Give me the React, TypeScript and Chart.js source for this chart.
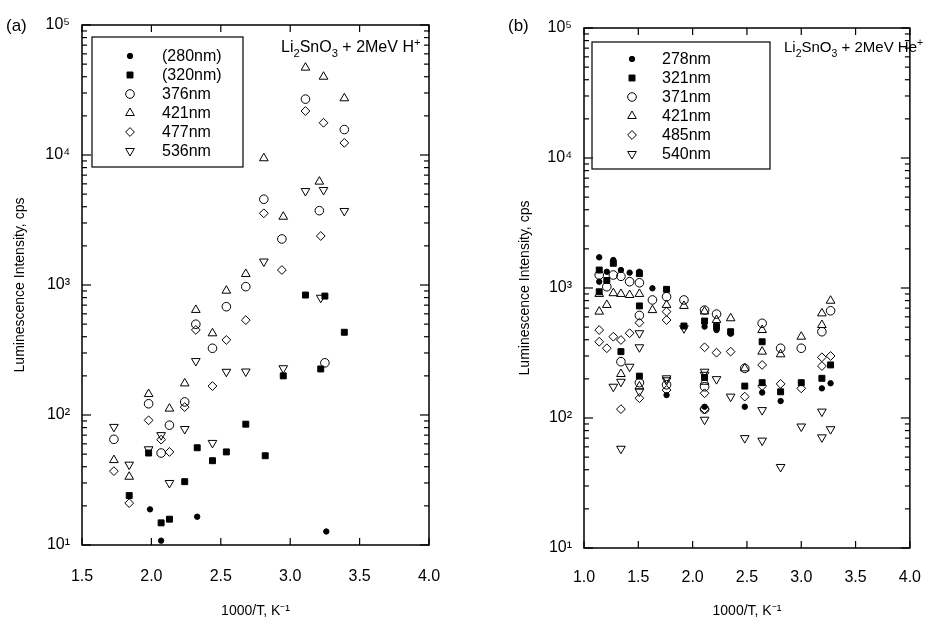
import React, { useEffect, useRef } from 'react';
import { Chart, registerables } from 'chart.js';
import { drawPoint } from 'chart.js/helpers';

Chart.register(...registerables);

const FONT = '"Liberation Sans", Arial, Helvetica, sans-serif';

// ---------- Panel (a): Li2SnO3 + 2MeV H+ ----------
const aXTicks = [1.5, 2.0, 2.5, 3.0, 3.5, 4.0];
const a280x = [1.99, 2.07, 2.33, 3.26];
const a280y = [18.8, 10.8, 16.5, 12.7];
const a320x = [1.84, 1.98, 2.07, 2.13, 2.24, 2.33, 2.44, 2.54, 2.68, 2.82, 2.95, 3.11, 3.22, 3.25, 3.39];
const a320y = [24, 51, 14.8, 15.8, 30.7, 56, 44.5, 52, 85, 48.6, 200, 837, 226, 822, 433];
const a376x = [1.73, 1.98, 2.07, 2.13, 2.24, 2.32, 2.44, 2.54, 2.68, 2.81, 2.94, 3.11, 3.21, 3.25, 3.39];
const a376y = [65, 122, 51, 83.5, 126, 499, 326, 681, 971, 4570, 2260, 26900, 3730, 252, 15700];
const a421x = [1.73, 1.84, 1.98, 2.13, 2.24, 2.32, 2.44, 2.54, 2.68, 2.81, 2.95, 3.11, 3.21, 3.24, 3.39];
const a421y = [45, 33.5, 145, 112, 175, 643, 425, 904, 1216, 9440, 3350, 47000, 6240, 40000, 27300];
const a477x = [1.73, 1.84, 1.98, 2.07, 2.13, 2.24, 2.32, 2.44, 2.54, 2.68, 2.81, 2.94, 3.11, 3.22, 3.24, 3.39];
const a477y = [37, 21, 91, 64.6, 52, 115, 451, 167, 378, 537, 3560, 1304, 21800, 2380, 17700, 12400];
const a536x = [1.73, 1.84, 1.98, 2.07, 2.13, 2.24, 2.32, 2.44, 2.54, 2.68, 2.81, 2.95, 3.11, 3.22, 3.24, 3.39];
const a536y = [81, 41.5, 54.5, 70, 30, 78, 260, 61, 215, 216, 1515, 229, 5280, 798, 5380, 3710];
const aLabels = ['(280nm)', '(320nm)', '376nm', '421nm', '477nm', '536nm'];

// ---------- Panel (b): Li2SnO3 + 2MeV He+ ----------
const bXTicks = [1.0, 1.5, 2.0, 2.5, 3.0, 3.5, 4.0];
const b278x = [1.14, 1.14, 1.21, 1.27, 1.34, 1.42, 1.51, 1.63, 1.76, 2.11, 2.11, 2.22, 2.35, 2.48, 2.64, 2.81, 3.19, 3.27];
const b278y = [1722, 1118, 1333, 1641, 1375, 1313, 1333, 995, 150, 505, 122, 475, 445, 122, 157, 135, 169, 185];
const b321x = [1.14, 1.14, 1.21, 1.27, 1.34, 1.51, 1.51, 1.51, 1.76, 1.92, 2.11, 2.11, 2.22, 2.35, 2.48, 2.64, 2.64, 2.81, 3.0, 3.19, 3.27];
const b321y = [1375, 935, 1142, 1549, 324, 1290, 728, 210, 977, 510, 557, 205, 505, 461, 176, 386, 187, 159, 187, 202, 256];
const b371x = [1.14, 1.21, 1.27, 1.34, 1.34, 1.42, 1.51, 1.51, 1.51, 1.63, 1.76, 1.76, 1.92, 2.11, 2.11, 2.11, 2.22, 2.48, 2.64, 2.81, 3.0, 3.19, 3.27];
const b371y = [1259, 1023, 1259, 1230, 271, 1118, 1097, 615, 187, 809, 857, 180, 809, 676, 174, 117, 630, 241, 535, 344, 344, 461, 668];
const b421x = [1.14, 1.14, 1.21, 1.27, 1.34, 1.34, 1.42, 1.51, 1.51, 1.63, 1.76, 1.92, 2.11, 2.11, 2.22, 2.35, 2.48, 2.64, 2.64, 2.81, 3.0, 3.19, 3.19, 3.27];
const b421y = [900, 658, 741, 912, 900, 218, 883, 900, 175, 676, 741, 728, 660, 190, 567, 585, 241, 475, 324, 309, 422, 638, 519, 798];
const b485x = [1.14, 1.14, 1.21, 1.27, 1.34, 1.34, 1.42, 1.51, 1.51, 1.76, 1.76, 1.76, 2.11, 2.11, 2.11, 2.22, 2.35, 2.48, 2.64, 2.64, 2.81, 3.0, 3.19, 3.19, 3.27];
const b485y = [475, 386, 344, 422, 398, 117, 449, 541, 142, 658, 567, 164, 350, 155, 117, 318, 324, 146, 256, 176, 183, 169, 293, 251, 300];
const b540x = [1.27, 1.34, 1.34, 1.42, 1.51, 1.51, 1.51, 1.76, 1.76, 1.92, 2.11, 2.11, 2.11, 2.22, 2.35, 2.48, 2.64, 2.64, 2.81, 3.0, 3.19, 3.19, 3.27];
const b540y = [174, 190, 58, 248, 449, 350, 160, 202, 195, 490, 227, 215, 97, 199, 146, 70, 115, 67, 42, 86, 112, 71, 82];
const bLabels = ['278nm', '321nm', '371nm', '421nm', '485nm', '540nm'];

const yDecades = [10, 100, 1000, 10000, 100000];
const SUP: Record<string, string> = { '0': '⁰', '1': '¹', '2': '²', '3': '³', '4': '⁴', '5': '⁵', '6': '⁶', '7': '⁷', '8': '⁸', '9': '⁹' };

// marker styles (order matches series order)
const STYLES = [
  { pointStyle: 'circle', pointRadius: 2.7, pointBackgroundColor: '#000', pointBorderWidth: 1, pointRotation: 0 },
  { pointStyle: 'rect', pointRadius: 4.2, pointBackgroundColor: '#000', pointBorderWidth: 1, pointRotation: 0 },
  { pointStyle: 'circle', pointRadius: 4.3, pointBackgroundColor: 'rgba(0,0,0,0)', pointBorderWidth: 1, pointRotation: 0 },
  { pointStyle: 'triangle', pointRadius: 5, pointBackgroundColor: 'rgba(0,0,0,0)', pointBorderWidth: 1, pointRotation: 0 },
  { pointStyle: 'rectRot', pointRadius: 4.4, pointBackgroundColor: 'rgba(0,0,0,0)', pointBorderWidth: 1, pointRotation: 0 },
  { pointStyle: 'triangle', pointRadius: 5, pointBackgroundColor: 'rgba(0,0,0,0)', pointBorderWidth: 1, pointRotation: 180 },
];

function makeDatasets(labels: string[], xs: number[][], ys: number[][]) {
  return labels.map((label, i) => ({
    label,
    data: xs[i].map((x, j) => ({ x, y: ys[i][j] })),
    showLine: false,
    pointBorderColor: '#000',
    pointHoverRadius: STYLES[i].pointRadius,
    ...STYLES[i],
  }));
}

const framePlugin = {
  id: 'frame',
  beforeDatasetsDraw(chart: any) {
    const { ctx, chartArea, scales } = chart;
    const { left, right, top, bottom } = chartArea;
    ctx.save();
    ctx.strokeStyle = '#000';
    ctx.lineWidth = 1.5;
    ctx.strokeRect(left, top, right - left, bottom - top);
    ctx.lineWidth = 1.2;
    const line = (x1: number, y1: number, x2: number, y2: number) => {
      ctx.beginPath();
      ctx.moveTo(x1, y1);
      ctx.lineTo(x2, y2);
      ctx.stroke();
    };
    const xs = scales.x;
    xs.ticks.forEach((t: any) => {
      const px = xs.getPixelForValue(t.value);
      line(px, bottom, px, bottom - 7);
      line(px, top, px, top + 7);
    });
    const ys = scales.y;
    yDecades.forEach((d) => {
      for (let m = 1; m <= 9; m++) {
        const v = m * d;
        if (v > ys.max + 1e-6) break;
        const py = ys.getPixelForValue(v);
        const len = m === 1 ? 9 : 5;
        line(left, py, left + len, py);
        line(right, py, right - len, py);
      }
    });
    ctx.restore();
  },
};

type Part = [string, 'n' | 'sub' | 'sup'];

function drawRich(ctx: CanvasRenderingContext2D, parts: Part[], x: number, y: number, size: number) {
  let cx = x;
  parts.forEach(([txt, kind]) => {
    const s = kind === 'n' ? size : size * 0.7;
    const dy = kind === 'sub' ? size * 0.3 : kind === 'sup' ? -size * 0.38 : 0;
    ctx.font = `${s}px ${FONT}`;
    ctx.fillText(txt, cx, y + dy);
    cx += ctx.measureText(txt).width;
  });
}

function makeTextPlugin(cfg: any) {
  return {
    id: 'texts',
    afterDatasetsDraw(chart: any) {
      const { ctx } = chart;
      ctx.save();
      ctx.fillStyle = '#000';
      ctx.textBaseline = 'alphabetic';
      ctx.textAlign = 'left';
      // panel label
      ctx.font = `17px ${FONT}`;
      ctx.fillText(cfg.panel, cfg.panelX, cfg.panelY);
      // annotation
      drawRich(ctx, cfg.annot, cfg.annotX, cfg.annotY, cfg.annotSize);
      // legend
      const b = cfg.box;
      ctx.strokeStyle = '#000';
      ctx.lineWidth = 1.2;
      ctx.strokeRect(b.x, b.y, b.w, b.h);
      chart.data.datasets.forEach((d: any, i: number) => {
        const yy = cfg.rowY0 + i * cfg.rowH;
        ctx.fillStyle = d.pointBackgroundColor;
        ctx.strokeStyle = '#000';
        ctx.lineWidth = d.pointBorderWidth;
        drawPoint(ctx, { pointStyle: d.pointStyle, radius: d.pointRadius, rotation: d.pointRotation, borderWidth: d.pointBorderWidth } as any, cfg.markX, yy);
        ctx.fillStyle = '#000';
        ctx.textBaseline = 'middle';
        ctx.font = `16px ${FONT}`;
        ctx.fillText(d.label, cfg.textX, yy + 1);
      });
      ctx.restore();
    },
  };
}

function makeConfig(p: any) {
  return {
    type: 'scatter',
    data: { datasets: p.datasets },
    options: {
      responsive: false,
      animation: false,
      devicePixelRatio: 1,
      events: [],
      layout: { padding: { left: 0, right: p.padRight, top: p.padTop, bottom: 0 } },
      plugins: { legend: { display: false }, tooltip: { enabled: false } },
      scales: {
        x: {
          type: 'linear',
          min: p.xTicks[0],
          max: p.xTicks[p.xTicks.length - 1],
          afterFit: (s: any) => { s.height = p.xAxisH; },
          afterBuildTicks: (s: any) => { s.ticks = p.xTicks.map((v: number) => ({ value: v })); },
          grid: { display: false, drawTicks: false, tickLength: 0 },
          border: { display: false },
          ticks: {
            autoSkip: false,
            maxRotation: 0,
            padding: p.xTickPad,
            color: '#000',
            font: { family: FONT, size: 16 },
            callback: (v: any) => Number(v).toFixed(1),
          },
          title: {
            display: true,
            text: '1000/T, K⁻¹',
            color: '#000',
            font: { family: FONT, size: 14 },
            padding: { top: 0, bottom: 9 },
          },
        },
        y: {
          type: 'logarithmic',
          min: 10,
          max: 100000,
          afterFit: (s: any) => { s.width = p.yAxisW; },
          afterBuildTicks: (s: any) => { s.ticks = yDecades.map((v) => ({ value: v, major: true })); },
          grid: { display: false, drawTicks: false, tickLength: 0 },
          border: { display: false },
          ticks: {
            autoSkip: false,
            padding: 12,
            color: '#000',
            font: { family: FONT, size: 16 },
            callback: (v: any) => {
              const e = Math.round(Math.log10(Number(v)));
              return '10' + String(e).split('').map((c) => SUP[c]).join('');
            },
          },
          title: {
            display: true,
            text: 'Luminescence Intensity, cps',
            color: '#000',
            font: { family: FONT, size: 14 },
            padding: { top: p.yTitlePad, bottom: 0 },
          },
        },
      },
    },
    plugins: [framePlugin, makeTextPlugin(p.text)],
  };
}

export default function App() {
  const refA = useRef<HTMLCanvasElement>(null);
  const refB = useRef<HTMLCanvasElement>(null);

  useEffect(() => {
    const cfgA = makeConfig({
      datasets: makeDatasets(aLabels, [a280x, a320x, a376x, a421x, a477x, a536x], [a280y, a320y, a376y, a421y, a477y, a536y]),
      xTicks: aXTicks,
      padRight: 41,
      padTop: 25,
      xAxisH: 84,
      yAxisW: 82,
      xTickPad: 22,
      yTitlePad: 12,
      text: {
        panel: '(a)', panelX: 6, panelY: 31,
        annot: [['Li', 'n'], ['2', 'sub'], ['SnO', 'n'], ['3', 'sub'], [' + 2MeV H', 'n'], ['+', 'sup']],
        annotX: 281, annotY: 52, annotSize: 16,
        box: { x: 92, y: 37, w: 151, h: 130 },
        rowY0: 56, rowH: 19, markX: 130, textX: 162,
      },
    });
    const cfgB = makeConfig({
      datasets: makeDatasets(bLabels, [b278x, b321x, b371x, b421x, b485x, b540x], [b278y, b321y, b371y, b421y, b485y, b540y]),
      xTicks: bXTicks,
      padRight: 15,
      padTop: 28,
      xAxisH: 81,
      yAxisW: 114,
      xTickPad: 20,
      yTitlePad: 47,
      text: {
        panel: '(b)', panelX: 38, panelY: 31,
        annot: [['Li', 'n'], ['2', 'sub'], ['SnO', 'n'], ['3', 'sub'], [' + 2MeV He', 'n'], ['+', 'sup']],
        annotX: 314, annotY: 52, annotSize: 15,
        box: { x: 122, y: 42, w: 178, h: 127 },
        rowY0: 59, rowH: 19, markX: 162, textX: 192,
      },
    });
    const chA = new Chart(refA.current as HTMLCanvasElement, cfgA as any);
    const chB = new Chart(refB.current as HTMLCanvasElement, cfgB as any);
    return () => {
      chA.destroy();
      chB.destroy();
    };
  }, []);

  return (
    <div style={{ position: 'fixed', left: 0, top: 0, width: 941, height: 629, background: '#fff' }}>
      <canvas ref={refA} width={470} height={629} style={{ position: 'absolute', left: 0, top: 0, width: 470, height: 629 }} />
      <canvas ref={refB} width={471} height={629} style={{ position: 'absolute', left: 470, top: 0, width: 471, height: 629 }} />
    </div>
  );
}
